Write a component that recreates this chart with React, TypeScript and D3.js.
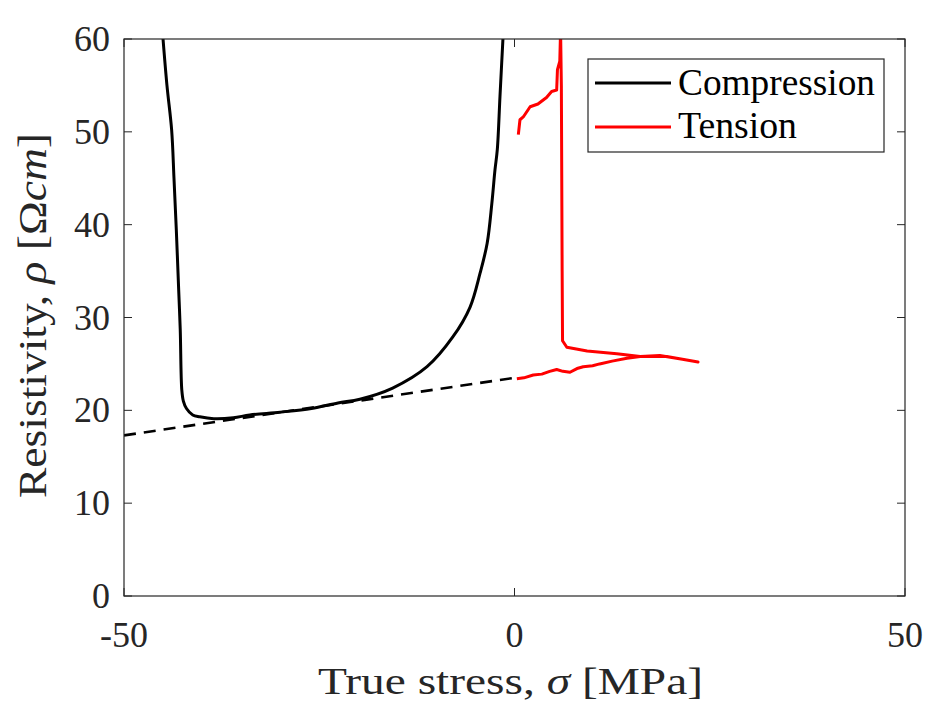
import React from "react";
import * as d3 from "d3";

const xTicks = [-50, 0, 50];
const yTicks = [0, 10, 20, 30, 40, 50, 60];

const compressionStress = [-45.05, -44.5, -43.9, -43.6, -43.3, -43.0, -42.8, -42.6, -42.4, -42.0, -41.2, -40.3, -38.5, -36, -33.9, -30, -26, -22.6, -19.8, -15.6, -11.2, -7.9, -5.7, -4.4, -3.5, -2.9, -2.5, -2.2, -1.86, -1.45];
const compressionRho = [60.5, 55, 50.2, 45, 39.4, 33, 28.7, 22.2, 21.0, 20.2, 19.5, 19.3, 19.1, 19.2, 19.5, 19.8, 20.2, 20.8, 21.2, 22.4, 24.7, 27.9, 31.1, 34.8, 38.0, 42.3, 45.9, 48.1, 53.8, 60.5];

const tensionStress = [0.3, 1.2, 2.4, 3.5, 4.5, 5.4, 6.2, 7.1, 8.0, 8.8, 10.0, 10.9, 12.5, 14.4, 16.1, 18.0, 19.5, 21.5, 23.5, 21.5, 18.6, 16.1, 13.1, 9.3, 6.7, 6.15, 6.1, 6.05, 6.0, 5.9, 5.8, 5.5, 5.4, 4.75, 4.1, 3.0, 2.0, 1.12, 0.7, 0.49];
const tensionRho = [23.4, 23.5, 23.8, 23.9, 24.2, 24.4, 24.2, 24.1, 24.5, 24.7, 24.8, 25.0, 25.3, 25.6, 25.8, 25.8, 25.8, 25.5, 25.2, 25.5, 25.9, 25.8, 26.1, 26.4, 26.8, 27.5, 35, 45, 55, 61, 57.6, 56.7, 54.5, 54.35, 53.7, 53.0, 52.7, 51.6, 51.3, 49.7];

const fitStress = [-50, 0];
const fitRho = [17.3, 23.5];

const W = 946;
const H = 706;
const m = { left: 124, right: 905, top: 39, bottom: 596 };
const axisColor = "#262626";
const font = "'Liberation Serif', 'Times New Roman', serif";

export default function App() {
  const x = d3.scaleLinear().domain([-50, 50]).range([m.left, m.right]);
  const y = d3.scaleLinear().domain([0, 60]).range([m.bottom, m.top]);
  const line = d3
    .line<[number, number]>()
    .x((d) => x(d[0]))
    .y((d) => y(d[1]));
  const smooth = d3
    .line<[number, number]>()
    .x((d) => x(d[0]))
    .y((d) => y(d[1]))
    .curve(d3.curveCatmullRom.alpha(0.5));

  const comp = compressionStress.map((s, i) => [s, compressionRho[i]] as [number, number]);
  const tens = tensionStress.map((s, i) => [s, tensionRho[i]] as [number, number]);
  const fit = fitStress.map((s, i) => [s, fitRho[i]] as [number, number]);
  const tl = 8;

  return (
    <svg
      width={W}
      height={H}
      style={{ position: "absolute", left: 0, top: 0, background: "#fff" }}
    >
      <defs>
        <clipPath id="plotclip">
          <rect x={m.left} y={m.top} width={m.right - m.left} height={m.bottom - m.top} />
        </clipPath>
      </defs>
      <rect x={0} y={0} width={W} height={H} fill="#fff" />

      {/* ticks */}
      {yTicks.map((t) => (
        <g key={"y" + t}>
          <line x1={m.left} x2={m.left + tl} y1={y(t)} y2={y(t)} stroke={axisColor} strokeWidth={1} />
          <line x1={m.right} x2={m.right - tl} y1={y(t)} y2={y(t)} stroke={axisColor} strokeWidth={1} />
          <text
            x={110}
            y={y(t)}
            textAnchor="end"
            dominantBaseline="central"
            fontFamily={font}
            fontSize={36}
            fill={axisColor}
          >
            {t}
          </text>
        </g>
      ))}
      {xTicks.map((t) => (
        <g key={"x" + t}>
          <line x1={x(t)} x2={x(t)} y1={m.bottom} y2={m.bottom - tl} stroke={axisColor} strokeWidth={1} />
          <line x1={x(t)} x2={x(t)} y1={m.top} y2={m.top + tl} stroke={axisColor} strokeWidth={1} />
          <text x={x(t)} y={647} textAnchor="middle" fontFamily={font} fontSize={36} fill={axisColor}>
            {t}
          </text>
        </g>
      ))}

      {/* data */}
      <g clipPath="url(#plotclip)">
        <path d={line(fit) || ""} fill="none" stroke="#000" strokeWidth={2.6} strokeDasharray="12,8" />
        <path d={smooth(comp) || ""} fill="none" stroke="#000" strokeWidth={3} strokeLinejoin="round" />
        <path d={line(tens) || ""} fill="none" stroke="#ff0000" strokeWidth={3} strokeLinejoin="round" />
      </g>

      {/* frame */}
      <rect
        x={m.left}
        y={m.top}
        width={m.right - m.left}
        height={m.bottom - m.top}
        fill="none"
        stroke={axisColor}
        strokeWidth={1.2}
      />

      {/* legend */}
      <rect x={588} y={59} width={296} height={93} fill="#fff" stroke={axisColor} strokeWidth={1.2} />
      <line x1={595} x2={671} y1={83} y2={83} stroke="#000" strokeWidth={3} />
      <line x1={595} x2={671} y1={127} y2={127} stroke="#ff0000" strokeWidth={3} />
      <text x={678} y={95} fontFamily={font} fontSize={37} fill="#000" textLength={197} lengthAdjust="spacingAndGlyphs">
        Compression
      </text>
      <text x={678} y={138} fontFamily={font} fontSize={37} fill="#000" textLength={119} lengthAdjust="spacingAndGlyphs">
        Tension
      </text>

      {/* axis labels */}
      <text
        x={(m.left + m.right) / 2 - 4}
        y={694}
        textAnchor="middle"
        fontFamily={font}
        fontSize={38}
        fill={axisColor}
        textLength={385}
        lengthAdjust="spacingAndGlyphs"
      >
        True stress, <tspan fontStyle="italic">σ</tspan> [MPa]
      </text>
      <text
        transform={`translate(46, ${(m.top + m.bottom) / 2 - 2}) rotate(-90)`}
        textAnchor="middle"
        fontFamily={font}
        fontSize={40}
        fill={axisColor}
        textLength={365}
        lengthAdjust="spacingAndGlyphs"
      >
        Resistivity, <tspan fontStyle="italic">ρ</tspan> [Ω<tspan fontStyle="italic">cm</tspan>]
      </text>
    </svg>
  );
}
